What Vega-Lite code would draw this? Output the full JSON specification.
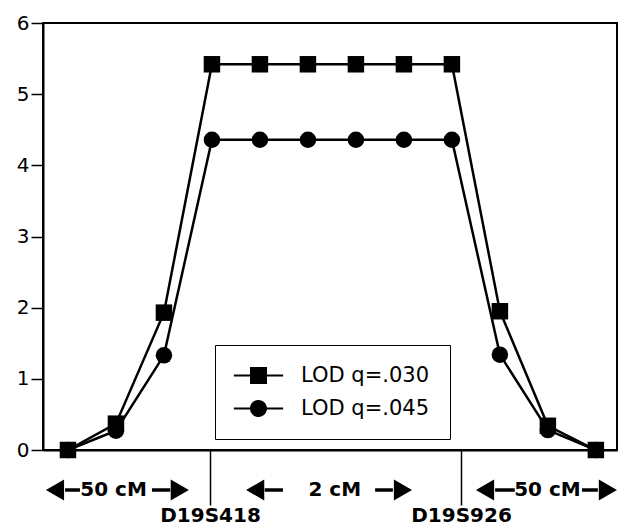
{
  "$schema": "https://vega.github.io/schema/vega-lite/v6.json",
  "width": 574,
  "height": 427,
  "autosize": "none",
  "padding": {"left": 43, "top": 23, "right": 1, "bottom": 77},
  "background": "white",
  "config": {
    "view": {"stroke": "black", "strokeWidth": 2},
    "font": "DejaVu Sans"
  },
  "resolve": {"scale": {"shape": "independent"}, "legend": {"shape": "independent"}},
  "datasets": {
    "lod": [
      {"pos": 0, "series": "LOD q=.045", "lod": 0},
      {"pos": 1, "series": "LOD q=.045", "lod": 0.27},
      {"pos": 2, "series": "LOD q=.045", "lod": 1.33},
      {"pos": 3, "series": "LOD q=.045", "lod": 4.36},
      {"pos": 4, "series": "LOD q=.045", "lod": 4.36},
      {"pos": 5, "series": "LOD q=.045", "lod": 4.36},
      {"pos": 6, "series": "LOD q=.045", "lod": 4.36},
      {"pos": 7, "series": "LOD q=.045", "lod": 4.36},
      {"pos": 8, "series": "LOD q=.045", "lod": 4.36},
      {"pos": 9, "series": "LOD q=.045", "lod": 1.34},
      {"pos": 10, "series": "LOD q=.045", "lod": 0.28},
      {"pos": 11, "series": "LOD q=.045", "lod": 0},
      {"pos": 0, "series": "LOD q=.030", "lod": 0},
      {"pos": 1, "series": "LOD q=.030", "lod": 0.37},
      {"pos": 2, "series": "LOD q=.030", "lod": 1.93},
      {"pos": 3, "series": "LOD q=.030", "lod": 5.42},
      {"pos": 4, "series": "LOD q=.030", "lod": 5.42},
      {"pos": 5, "series": "LOD q=.030", "lod": 5.42},
      {"pos": 6, "series": "LOD q=.030", "lod": 5.42},
      {"pos": 7, "series": "LOD q=.030", "lod": 5.42},
      {"pos": 8, "series": "LOD q=.030", "lod": 5.42},
      {"pos": 9, "series": "LOD q=.030", "lod": 1.95},
      {"pos": 10, "series": "LOD q=.030", "lod": 0.34},
      {"pos": 11, "series": "LOD q=.030", "lod": 0}
    ],
    "entries": [
      {"entry": "LOD q=.030"},
      {"entry": "LOD q=.045"}
    ],
    "shafts": [
      {"pos": -0.06, "end": 0.25},
      {"pos": 1.75, "end": 2.13},
      {"pos": 4.10, "end": 4.48},
      {"pos": 6.40, "end": 6.77},
      {"pos": 8.90, "end": 9.31},
      {"pos": 10.71, "end": 11.04}
    ],
    "heads": [
      {"pos": -0.27, "dir": "left"},
      {"pos": 2.33, "dir": "right"},
      {"pos": 3.90, "dir": "left"},
      {"pos": 6.98, "dir": "right"},
      {"pos": 8.69, "dir": "left"},
      {"pos": 11.25, "dir": "right"}
    ],
    "spans": [
      {"pos": 0.95, "label": "50 cM"},
      {"pos": 5.56, "label": "2 cM"},
      {"pos": 9.99, "label": "50 cM"}
    ]
  },
  "layer": [
    {
      "data": {"name": "lod"},
      "mark": {"type": "line", "color": "black", "strokeWidth": 2.5},
      "encoding": {
        "x": {
          "field": "pos",
          "type": "quantitative",
          "scale": {"domain": [-0.52, 11.44], "nice": false, "zero": false},
          "axis": {
            "title": null,
            "grid": false,
            "values": [2.96, 8.19],
            "domainColor": "black",
            "domainWidth": 2,
            "tickSize": 55,
            "tickWidth": 1.5,
            "tickColor": "black",
            "labelExpr": "datum.value < 5 ? 'D19S418' : 'D19S926'",
            "labelPadding": 10,
            "labelBaseline": "middle",
            "labelFont": "DejaVu Sans",
            "labelFontWeight": "bold",
            "labelFontSize": 20,
            "labelColor": "black",
            "labelFlush": false,
            "labelOverlap": false,
            "labelBound": false
          }
        },
        "y": {
          "field": "lod",
          "type": "quantitative",
          "scale": {"domain": [0, 6], "nice": false},
          "axis": {
            "title": null,
            "grid": false,
            "values": [0, 1, 2, 3, 4, 5, 6],
            "format": "d",
            "domainColor": "black",
            "domainWidth": 2,
            "tickSize": 12,
            "tickWidth": 1.5,
            "tickColor": "black",
            "labelPadding": 2,
            "labelFont": "DejaVu Sans",
            "labelFontSize": 20,
            "labelColor": "black"
          }
        },
        "detail": {"field": "series"}
      }
    },
    {
      "data": {"name": "lod"},
      "mark": {"type": "point", "filled": true, "color": "black", "opacity": 1, "size": 272},
      "encoding": {
        "x": {"field": "pos", "type": "quantitative"},
        "y": {"field": "lod", "type": "quantitative"},
        "shape": {
          "field": "series",
          "type": "nominal",
          "scale": {"domain": ["LOD q=.030", "LOD q=.045"], "range": ["square", "circle"]},
          "legend": null
        }
      }
    },
    {
      "data": {"name": "entries"},
      "mark": {"type": "point", "filled": true, "color": "black", "opacity": 1, "size": 0},
      "encoding": {
        "shape": {
          "field": "entry",
          "type": "nominal",
          "scale": {
            "domain": ["LOD q=.030", "LOD q=.045"],
            "range": ["M-2.9,-0.13H2.9V0.13H-2.9Z M-1,-1H1V1H-1Z", "M-2.9,-0.13H2.9V0.13H-2.9Z M1,0A1,1,0,1,1,-1,0A1,1,0,1,1,1,0Z"]
          },
          "legend": {
            "title": null,
            "orient": "none",
            "legendX": 172,
            "legendY": 322,
            "fillColor": "white",
            "strokeColor": "black",
            "padding": 20,
            "symbolSize": 289,
            "symbolOpacity": 1,
            "symbolFillColor": "black",
            "symbolStrokeColor": "black",
            "symbolStrokeWidth": 0,
            "symbolOffset": 13,
            "labelOffset": 32,
            "labelFont": "DejaVu Sans",
            "labelFontSize": 21,
            "labelColor": "black",
            "rowPadding": 11
          }
        }
      }
    },
    {
      "data": {"name": "shafts"},
      "mark": {"type": "rule", "color": "black", "strokeWidth": 3.5},
      "encoding": {
        "x": {"field": "pos", "type": "quantitative"},
        "x2": {"field": "end"},
        "y": {"datum": -0.562}
      }
    },
    {
      "data": {"name": "heads"},
      "transform": [{"filter": "datum.dir == 'left'"}],
      "mark": {"type": "point", "filled": true, "color": "black", "opacity": 1, "size": 441, "shape": "triangle-left"},
      "encoding": {
        "x": {"field": "pos", "type": "quantitative"},
        "y": {"datum": -0.562}
      }
    },
    {
      "data": {"name": "heads"},
      "transform": [{"filter": "datum.dir == 'right'"}],
      "mark": {"type": "point", "filled": true, "color": "black", "opacity": 1, "size": 441, "shape": "triangle-right"},
      "encoding": {
        "x": {"field": "pos", "type": "quantitative"},
        "y": {"datum": -0.562}
      }
    },
    {
      "data": {"name": "spans"},
      "mark": {"type": "text", "color": "black", "font": "DejaVu Sans", "fontWeight": "bold", "fontSize": 20, "baseline": "middle", "align": "center"},
      "encoding": {
        "x": {"field": "pos", "type": "quantitative"},
        "y": {"datum": -0.562},
        "text": {"field": "label"}
      }
    }
  ]
}
